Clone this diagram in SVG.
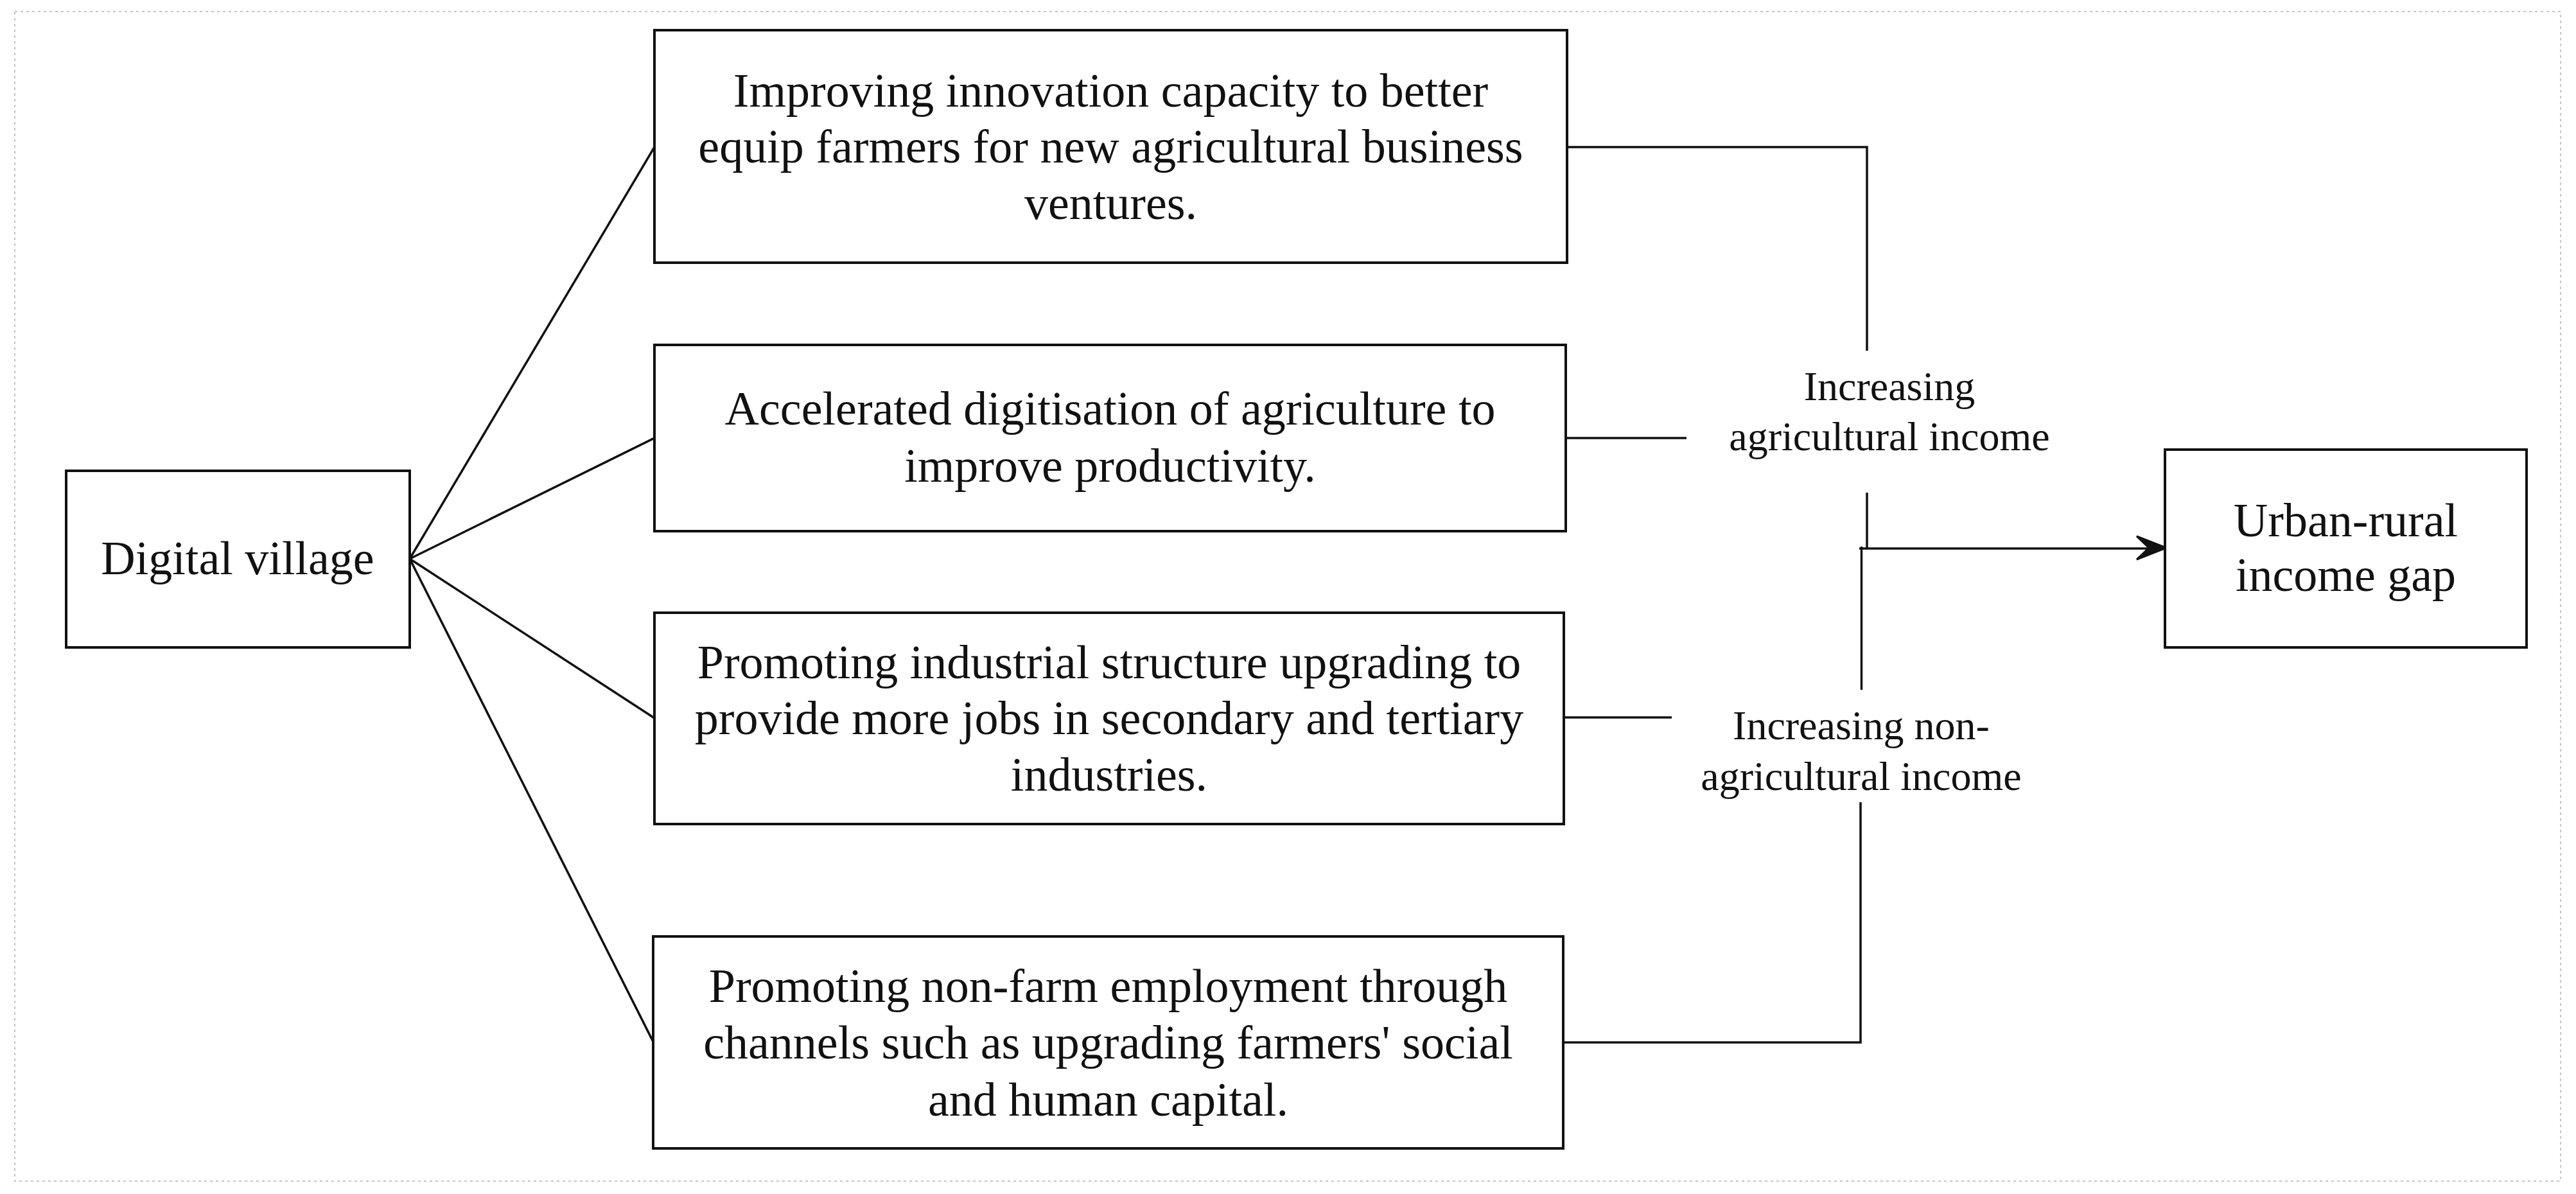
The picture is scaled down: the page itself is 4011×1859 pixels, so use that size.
<svg xmlns="http://www.w3.org/2000/svg" width="4011" height="1859" viewBox="0 0 4011 1859">
<style>
.box{fill:#fff;stroke:#111;stroke-width:4}
.t{font-family:"Liberation Serif","Times New Roman",serif;font-size:74px;fill:#111;text-anchor:middle}
.lbl{font-family:"Liberation Serif","Times New Roman",serif;font-size:64px;fill:#111;text-anchor:middle}
.c{fill:none;stroke:#111;stroke-width:3.5}
</style>
<rect x="0" y="0" width="4011" height="1859" fill="#fff"/>
<rect x="23" y="18" width="3964" height="1821" fill="none" stroke="#c4c4c4" stroke-width="2" stroke-dasharray="4 5"/>
<g id="connectors">
<line class="c" x1="638" y1="870" x2="1019" y2="229"/>
<line class="c" x1="638" y1="870" x2="1019" y2="682"/>
<line class="c" x1="638" y1="870" x2="1019" y2="1118"/>
<line class="c" x1="638" y1="870" x2="1017" y2="1622"/>
<polyline class="c" stroke-width="4" points="2440,229 2907,229 2907,546"/>
<line class="c" stroke-width="4" x1="2438" y1="682" x2="2626" y2="682"/>
<line class="c" stroke-width="4" x1="2907" y1="767" x2="2907" y2="855"/>
<line class="c" stroke-width="8" x1="2898.5" y1="851" x2="2898.5" y2="1074"/>
<line class="c" stroke-width="5" x1="2895" y1="854" x2="3345" y2="854"/>
<path d="M3373,853 L3327,835 L3346,853 L3327,871 Z" fill="#111" stroke="#111" stroke-width="3" stroke-linejoin="miter"/>
<line class="c" stroke-width="4" x1="2435" y1="1117" x2="2603" y2="1117"/>
<polyline class="c" stroke-width="4" points="2434,1623 2897,1623 2897,1249"/>
</g>
<g id="digital-village">
<rect class="box" x="103" y="733" width="535" height="275"/>
<text class="t" x="370" y="894">Digital village</text>
</g>
<g id="innovation">
<rect class="box" x="1019" y="47" width="1421" height="362"/>
<text class="t" x="1729.5" y="166">Improving innovation capacity to better</text>
<text class="t" x="1729.5" y="253">equip farmers for new agricultural business</text>
<text class="t" x="1729.5" y="341">ventures.</text>
</g>
<g id="digitisation">
<rect class="box" x="1019" y="537" width="1419" height="290"/>
<text class="t" x="1728.5" y="661">Accelerated digitisation of agriculture to</text>
<text class="t" x="1728.5" y="750">improve productivity.</text>
</g>
<g id="industrial">
<rect class="box" x="1019" y="954" width="1416" height="329"/>
<text class="t" x="1727" y="1056">Promoting industrial structure upgrading to</text>
<text class="t" x="1727" y="1143">provide more jobs in secondary and tertiary</text>
<text class="t" x="1727" y="1231">industries.</text>
</g>
<g id="nonfarm">
<rect class="box" x="1017" y="1458" width="1417" height="330"/>
<text class="t" x="1725.5" y="1560">Promoting non-farm employment through</text>
<text class="t" x="1725.5" y="1648">channels such as upgrading farmers' social</text>
<text class="t" x="1725.5" y="1737">and human capital.</text>
</g>
<g id="agri-income">
<text class="lbl" x="2942" y="623">Increasing</text>
<text class="lbl" x="2942" y="701">agricultural income</text>
</g>
<g id="nonagri-income">
<text class="lbl" x="2898" y="1151">Increasing non-</text>
<text class="lbl" x="2898" y="1230">agricultural income</text>
</g>
<g id="income-gap">
<rect class="box" x="3371" y="700" width="563" height="308"/>
<text class="t" x="3652.5" y="835">Urban-rural</text>
<text class="t" x="3652.5" y="920">income gap</text>
</g>
</svg>
